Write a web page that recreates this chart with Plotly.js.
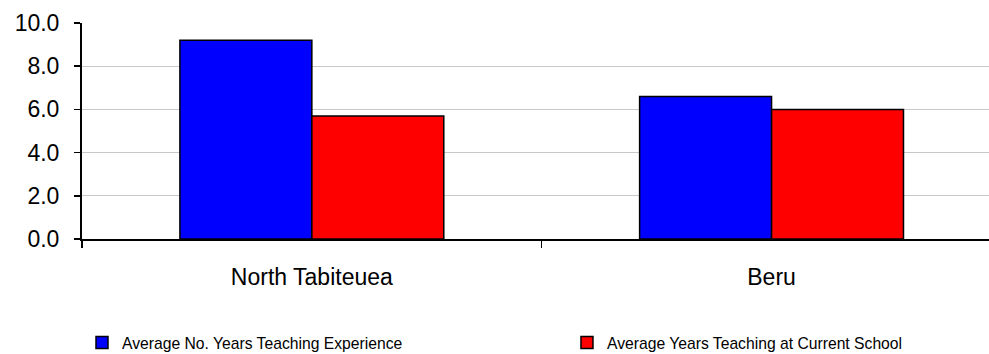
<!DOCTYPE html>
<html>
<head>
<meta charset="utf-8">
<script src="https://cdn.plot.ly/plotly-3.0.1.min.js"></script>
<style>html,body{margin:0;padding:0;background:#fff;}#chart{width:989px;height:354px;}</style>
</head>
<body>
<div id="chart"></div>
<script>
var categories = ["North Tabiteuea", "Beru"];
var seriesNames = ["Average No. Years Teaching Experience", "Average Years Teaching at Current School"];
var experience = [9.2, 6.6];
var currentSchool = [5.7, 6.0];
var yTickVals = [0, 2, 4, 6, 8, 10];
var yTickText = ["0.0", "2.0", "4.0", "6.0", "8.0", "10.0"];

var FONT = "Liberation Sans, Arial, sans-serif";

var traces = [
  {type: "bar", name: seriesNames[0], x: categories, y: experience, legend: "legend",
   marker: {color: "#0000ff", line: {color: "#000000", width: 1.5}}},
  {type: "bar", name: seriesNames[1], x: categories, y: currentSchool, legend: "legend2",
   marker: {color: "#ff0000", line: {color: "#000000", width: 1.5}}}
];

var legendFont = {family: FONT, size: 15.7, color: "#000000"};

var layout = {
  width: 989, height: 354,
  margin: {l: 82, r: 0, t: 23, b: 115, pad: 0, autoexpand: false},
  paper_bgcolor: "#ffffff", plot_bgcolor: "#ffffff",
  barmode: "group", bargap: 0.426, bargroupgap: 0,
  font: {family: FONT, color: "#000000"},
  showlegend: true,
  legend: {orientation: "h", x: 0.0, xanchor: "left", y: -0.48, yanchor: "middle",
           font: legendFont, itemclick: false, bgcolor: "rgba(0,0,0,0)"},
  legend2: {orientation: "h", x: 0.5347, xanchor: "left", y: -0.48, yanchor: "middle",
           font: legendFont, itemclick: false, bgcolor: "rgba(0,0,0,0)"},
  xaxis: {type: "category", range: [-0.5, 1.473], showgrid: false,
          showline: true, linecolor: "#000000", linewidth: 2,
          ticks: "outside", tickson: "boundaries", ticklen: 7, tickcolor: "#000000", tickwidth: 1.5,
          tickfont: {family: FONT, size: 23, color: "#000000"}, ticklabelstandoff: 16,
          zeroline: false, fixedrange: true},
  yaxis: {range: [0, 10], tickvals: yTickVals, ticktext: yTickText,
          showgrid: true, gridcolor: "#c8c8c8", gridwidth: 1,
          showline: true, linecolor: "#000000", linewidth: 2,
          ticks: "outside", ticklen: 6, tickcolor: "#000000", tickwidth: 1.5,
          tickfont: {family: FONT, size: 23, color: "#000000"}, ticklabelstandoff: 10,
          zeroline: false, fixedrange: true}
};

Plotly.newPlot("chart", traces, layout, {displayModeBar: false, staticPlot: true});
</script>
</body>
</html>
